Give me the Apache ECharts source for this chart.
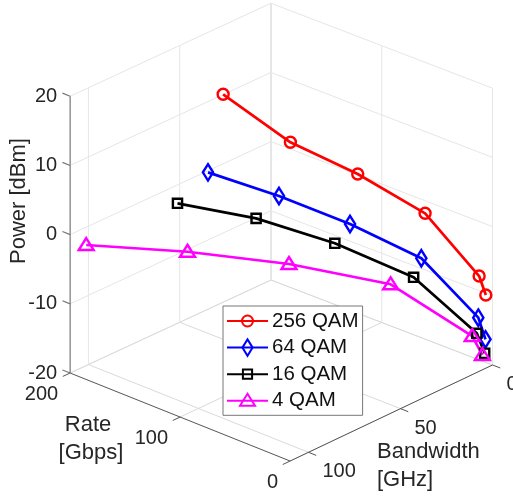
<!DOCTYPE html>
<html>
<head>
<meta charset="utf-8">
<style>
html, body { margin: 0; padding: 0; background: #fff; }
#chart { width: 513px; height: 497px; }
</style>
<script src="https://cdn.jsdelivr.net/npm/echarts@6/dist/echarts.min.js"></script>
</head>
<body>
<div id="chart"></div>
<script>
// values
var seriesNames = ['256 QAM', '64 QAM', '16 QAM', '4 QAM'];
var rateValues = [202, 151.5, 101, 50.5, 10, 5];
var bw256 = [25, 18.75, 12.5, 6.25, 1.25, 0.625];
var bw64 = [33.3, 25, 16.7, 8.3, 1.7, 0.8];
var bw16 = [50, 37.5, 25, 12.5, 2.5, 1.25];
var bw4 = [100, 75, 50, 25, 5, 2.5];
var power256 = [9.77, 5.19, 2.95, -0.4, -7.6, -10.12];
var power64 = [-0.5, -1.8, -3.75, -6.64, -13.56, -16.5];
var power16 = [-2.93, -3.5, -5.51, -8.86, -15.72, -18.45];
var power4 = [-2.85, -3.7, -5.4, -8.31, -15.8, -18.54];

var powerTicks = [-20, -10, 0, 10, 20];
var rateTicks = [0, 100, 200];
var bwTicks = [0, 50, 100];
var bwMax = 110;
var rateMax = 200;
var powerMin = -20;
var powerMax = 20;

var fontName = '"Liberation Sans", Arial, sans-serif';
var textColor = '#262626';

// marker shapes, drawn in a 17.6px box (the legend always gives line markers that size)
var boxPath = 'path://M0 0M17.6 17.6';
var circleIcon = boxPath + 'M14.3 8.8A5.5 5.5 0 1 1 3.3 8.8A5.5 5.5 0 1 1 14.3 8.8Z';
var diamondIcon = boxPath + 'M8.8 0.6L13.9 8.8L8.8 17L3.7 8.8Z';
var squareIcon = boxPath + 'M4.2 4.2L13.4 4.2L13.4 13.4L4.2 13.4Z';
var triangleIcon = boxPath + 'M8.8 1.8L16.3 13.8L1.3 13.8Z';

// slightly perspective view of the 3D box, gives pixels on the hidden 2D axes
function project(bw, rate, power) {
    return [
        492.5 - 1.84 * bw - 1.1075 * rate + 0.00007 * bw * rate,
        365 + 0.873 * bw - 0.425 * rate - 0.000136 * bw * rate - 6.92 * (power - powerMin)
    ];
}

// segment list -> one path, broken with empty points
function toPath(segments) {
    var path = [];
    segments.forEach(function (seg) {
        path.push(project(seg[0][0], seg[0][1], seg[0][2]));
        path.push(project(seg[1][0], seg[1][1], seg[1][2]));
        path.push(['-', '-']);
    });
    return path;
}

function pathSeries(segments, color, width) {
    return {
        type: 'line',
        data: toPath(segments),
        showSymbol: false,
        symbol: 'none',
        silent: true,
        z: 1,
        lineStyle: { color: color, width: width }
    };
}

// walls
var gridSegments = [];
powerTicks.forEach(function (p) {
    gridSegments.push([[0, rateMax, p], [bwMax, rateMax, p]]);
    gridSegments.push([[0, 0, p], [0, rateMax, p]]);
});
bwTicks.forEach(function (b) {
    gridSegments.push([[b, rateMax, powerMin], [b, rateMax, powerMax]]);
});
rateTicks.forEach(function (r) {
    gridSegments.push([[0, r, powerMin], [0, r, powerMax]]);
});

// floor
var floorSegments = [];
bwTicks.forEach(function (b) {
    floorSegments.push([[b, 0, powerMin], [b, rateMax, powerMin]]);
});
rateTicks.forEach(function (r) {
    floorSegments.push([[0, r, powerMin], [bwMax, r, powerMin]]);
});

// axis lines and tick marks
var axisSegments = [
    [[bwMax, rateMax, powerMin], [bwMax, 0, powerMin]],
    [[0, 0, powerMin], [bwMax, 0, powerMin]]
];
rateTicks.forEach(function (r) {
    axisSegments.push([[bwMax, r, powerMin], [bwMax + 4, r, powerMin]]);
});
bwTicks.forEach(function (b) {
    axisSegments.push([[b, 0, powerMin], [b, -7, powerMin]]);
});
var powerAxisSegments = [[[bwMax, rateMax, powerMin], [bwMax, rateMax, powerMax]]];
powerTicks.forEach(function (p) {
    powerAxisSegments.push([[bwMax, rateMax, p], [bwMax, rateMax + 7, p]]);
});

// tick labels, anchored on the projected tick
function tickLabel(pos, text, dx, dy, align) {
    return {
        value: pos,
        label: { show: true, formatter: String(text), offset: [dx, dy], align: align, verticalAlign: 'middle', position: 'inside' }
    };
}
var tickLabels = [];
powerTicks.forEach(function (p) {
    tickLabels.push(tickLabel(project(bwMax, rateMax, p), p, -13, 0, 'right'));
});
rateTicks.forEach(function (r) {
    tickLabels.push(tickLabel(project(bwMax, r, powerMin), r, -12, 21, 'right'));
});
bwTicks.forEach(function (b) {
    tickLabels.push(tickLabel(project(b, 0, powerMin), b, 14, 19.5, 'left'));
});

function qamSeries(name, bw, power, color, symbol) {
    return {
        name: name,
        type: 'line',
        data: rateValues.map(function (r, i) { return project(bw[i], r, power[i]); }),
        symbol: symbol,
        symbolSize: 17.6,
        showAllSymbol: true,
        z: 3,
        lineStyle: { color: color, width: 2.7 },
        itemStyle: { color: 'rgba(255,255,255,0)', borderColor: color, borderWidth: 2.4 }
    };
}

var myChart = echarts.init(document.getElementById('chart'), null, { renderer: 'canvas' });
var option = {
    animation: false,
    backgroundColor: '#fff',
    grid: { left: 0, right: 0, top: 0, bottom: 0 },
    xAxis: { type: 'value', min: 0, max: 513, show: false },
    yAxis: { type: 'value', min: 0, max: 497, inverse: true, show: false },
    legend: {
        data: seriesNames,
        orient: 'vertical',
        left: 223,
        top: 306,
        padding: [4.5, 4, 4, 3],
        itemWidth: 41,
        itemHeight: 22,
        itemGap: 5.6,
        backgroundColor: '#fff',
        borderColor: '#777',
        borderWidth: 1,
        borderRadius: 0,
        textStyle: { fontFamily: fontName, fontSize: 20.5, color: '#111', padding: [0, 0, 0, -1] }
    },
    series: [
        pathSeries(gridSegments, '#e6e6e6', 1),
        pathSeries(floorSegments, '#dadada', 1),
        pathSeries([[[0, rateMax, powerMin], [0, rateMax, powerMax]]], '#e6e6e6', 2),
        pathSeries(axisSegments, '#555', 1),
        pathSeries(powerAxisSegments, '#777', 1.2),
        {
            type: 'scatter',
            data: tickLabels,
            symbolSize: 0,
            silent: true,
            z: 2,
            itemStyle: { opacity: 1 },
            label: { fontFamily: fontName, fontSize: 20, color: textColor, opacity: 1 }
        },
        qamSeries(seriesNames[0], bw256, power256, '#ff0000', circleIcon),
        qamSeries(seriesNames[1], bw64, power64, '#0000ff', diamondIcon),
        qamSeries(seriesNames[2], bw16, power16, '#000000', squareIcon),
        qamSeries(seriesNames[3], bw4, power4, '#ff00ff', triangleIcon)
    ],
    graphic: [
        { type: 'text', x: 19, y: 201, rotation: Math.PI / 2, style: { text: 'Power [dBm]', fontFamily: fontName, fontSize: 22, fill: textColor, align: 'center', verticalAlign: 'middle' } },
        { type: 'text', x: 88, y: 425, style: { text: 'Rate', fontFamily: fontName, fontSize: 22, fill: textColor, align: 'center', verticalAlign: 'middle' } },
        { type: 'text', x: 91, y: 453, style: { text: '[Gbps]', fontFamily: fontName, fontSize: 22, fill: textColor, align: 'center', verticalAlign: 'middle' } },
        { type: 'text', x: 377, y: 452, style: { text: 'Bandwidth', fontFamily: fontName, fontSize: 22, fill: textColor, align: 'left', verticalAlign: 'middle' } },
        { type: 'text', x: 377, y: 480, style: { text: '[GHz]', fontFamily: fontName, fontSize: 22, fill: textColor, align: 'left', verticalAlign: 'middle' } }
    ]
};
myChart.setOption(option);
</script>
</body>
</html>
